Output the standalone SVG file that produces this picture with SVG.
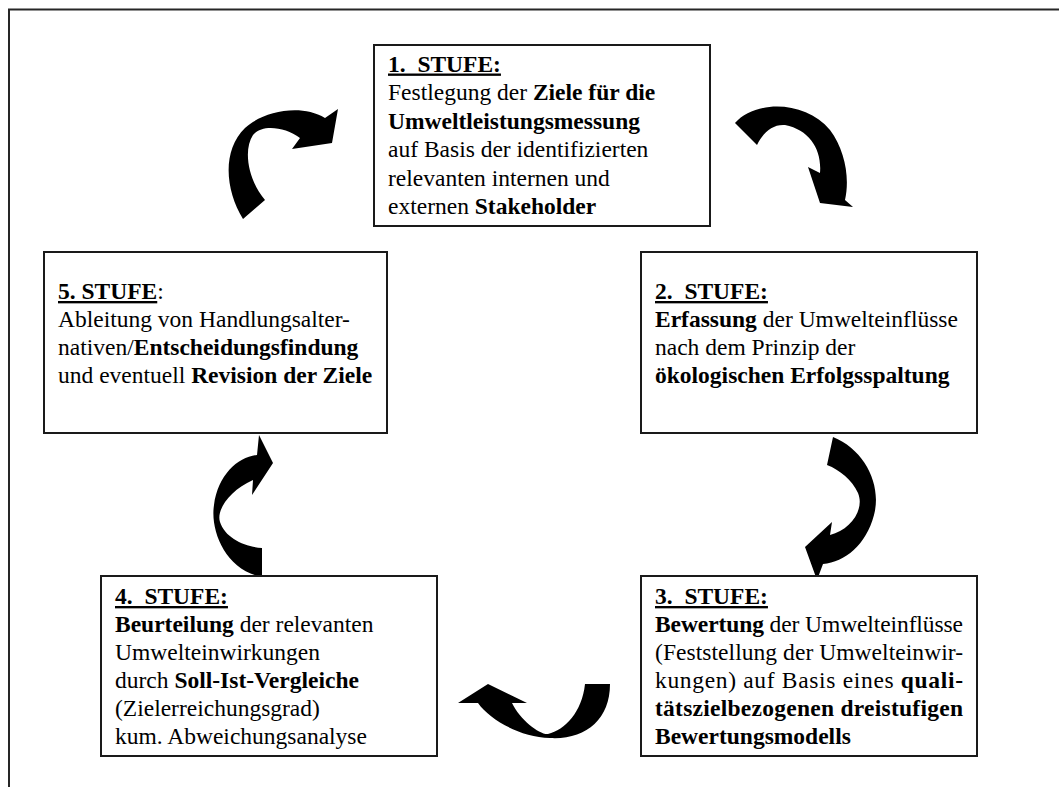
<svg xmlns="http://www.w3.org/2000/svg" width="1059" height="787" viewBox="0 0 1059 787">
  <style>
    .frame { fill: none; stroke: #262626; stroke-width: 2; }
    .box { fill: #ffffff; stroke: #1a1a1a; stroke-width: 2; }
    .txt { font-family: "Liberation Serif", "Times New Roman", serif; font-size: 23.5px; fill: #000000; }
    .b { font-weight: bold; }
    .u { text-decoration: underline; }
    .arrow { fill: #000000; stroke: none; }
  </style>

  <!-- page frame: top and left rule -->
  <path class="frame" d="M8,9.5 H1059 M9,9.5 V787"/>

  <!-- curved block arrows between the stages -->
  <g id="connectors">
    <path id="arrow-5-1" class="arrow" d="M243,219 C225,190 222,150 245,128 C262,112 300,103 325,118 L338,109 L332,143 L292,149 L300,138 C285,127 262,124 253,135 C243,150 248,180 265,200 Z"/>
    <path id="arrow-1-2" class="arrow" d="M735,123 C755,100 805,100 830,130 C845,150 850,178 845,200 L853,207 L820,203 L808,167 L820,173 C822,150 810,130 785,125 C772,124 763,133 757,145 Z"/>
    <path id="arrow-2-3" class="arrow" d="M833,437 C865,450 882,485 874,515 C866,545 845,562 823,564 L817,580 L805,547 L832,522 L830,535 C850,530 865,510 858,493 C852,480 840,470 827,465 Z"/>
    <path id="arrow-3-4" class="arrow" d="M610,684 C610,720 585,740 550,738 C520,737 490,720 478,703 L458,703 L488,684 L527,703 L512,703 C520,720 540,735 548,734 C565,730 582,712 585,684 Z"/>
    <path id="arrow-4-5" class="arrow" d="M262,577 C225,570 210,530 214,505 C218,475 238,457 257,455 L259,435 L273,463 L252,495 L253,480 C230,490 216,510 220,522 C225,538 245,547 262,548 Z"/>
  </g>

  <!-- stage 1 -->
  <g id="stufe-1">
    <rect class="box" x="374" y="45" width="336" height="181"/>
    <text class="txt" x="388" y="71.5"><tspan class="b u">1.&#160; STUFE:</tspan></text>
    <text class="txt" x="388" y="100">Festlegung der <tspan class="b">Ziele für die</tspan></text>
    <text class="txt b" x="388" y="128.5">Umweltleistungsmessung</text>
    <text class="txt" x="388" y="157">auf Basis der identifizierten</text>
    <text class="txt" x="388" y="185.5">relevanten internen und</text>
    <text class="txt" x="388" y="214">externen <tspan class="b">Stakeholder</tspan></text>
  </g>

  <!-- stage 2 -->
  <g id="stufe-2">
    <rect class="box" x="641" y="252" width="336" height="181"/>
    <text class="txt" x="655" y="299"><tspan class="b u">2.&#160; STUFE:</tspan></text>
    <text class="txt" x="655" y="327"><tspan class="b">Erfassung</tspan> der Umwelteinflüsse</text>
    <text class="txt" x="655" y="355">nach dem Prinzip der</text>
    <text class="txt b" x="655" y="383">ökologischen Erfolgsspaltung</text>
  </g>

  <!-- stage 3: justified body lines -->
  <g id="stufe-3">
    <rect class="box" x="641" y="576" width="336" height="180"/>
    <text class="txt" x="655" y="604"><tspan class="b u">3.&#160; STUFE:</tspan></text>
    <text class="txt" x="655" y="632" textLength="308" lengthAdjust="spacing"><tspan class="b">Bewertung</tspan> der Umwelteinflüsse</text>
    <text class="txt" x="655" y="660" textLength="308" lengthAdjust="spacing">(Feststellung der Umwelteinwir-</text>
    <text class="txt" x="655" y="688" textLength="308" lengthAdjust="spacing">kungen) auf Basis eines <tspan class="b">quali-</tspan></text>
    <text class="txt b" x="655" y="716" textLength="308" lengthAdjust="spacing">tätszielbezogenen dreistufigen</text>
    <text class="txt b" x="655" y="744">Bewertungsmodells</text>
  </g>

  <!-- stage 4 -->
  <g id="stufe-4">
    <rect class="box" x="101" y="576" width="336" height="180"/>
    <text class="txt" x="115" y="604"><tspan class="b u">4.&#160; STUFE:</tspan></text>
    <text class="txt" x="115" y="632"><tspan class="b">Beurteilung</tspan> der relevanten</text>
    <text class="txt" x="115" y="660">Umwelteinwirkungen</text>
    <text class="txt" x="115" y="688">durch <tspan class="b">Soll-Ist-Vergleiche</tspan></text>
    <text class="txt" x="115" y="716">(Zielerreichungsgrad)</text>
    <text class="txt" x="115" y="744">kum. Abweichungsanalyse</text>
  </g>

  <!-- stage 5 -->
  <g id="stufe-5">
    <rect class="box" x="44" y="252" width="343" height="181"/>
    <text class="txt" x="58" y="299"><tspan class="b u">5. STUFE</tspan>:</text>
    <text class="txt" x="58" y="327">Ableitung von Handlungsalter-</text>
    <text class="txt" x="58" y="355">nativen/<tspan class="b">Entscheidungsfindung</tspan></text>
    <text class="txt" x="58" y="383">und eventuell <tspan class="b">Revision der Ziele</tspan></text>
  </g>
</svg>
